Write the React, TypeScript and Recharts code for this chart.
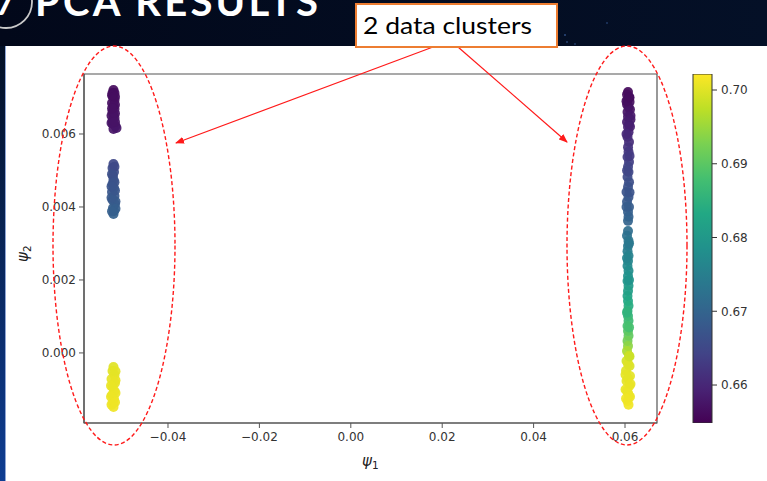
import React from 'react';
import { ScatterChart, Scatter, XAxis, YAxis, ReferenceArea, BarChart, Bar } from 'recharts';

// axis setup
const xTicks = [-0.04, -0.02, 0, 0.02, 0.04, 0.06];
const yTicks = [0, 0.002, 0.004, 0.006];
const cTicks = [0.66, 0.67, 0.68, 0.69, 0.7];
const xDomain: [number, number] = [-0.05838, 0.067];
const yDomain: [number, number] = [-0.00192, 0.007644];
const cDomain: [number, number] = [0.65485, 0.70217];

// [psi1, psi2, colour value]
const leftTop: number[][] = [
  [-0.05193, 0.007205, 0.6562], [-0.05214, 0.007123, 0.6563], [-0.05171, 0.007123, 0.6564],
  [-0.05203, 0.007014, 0.6565], [-0.05171, 0.006932, 0.6566], [-0.05225, 0.006849, 0.6567],
  [-0.05193, 0.006767, 0.6568], [-0.05171, 0.006685, 0.6569], [-0.05214, 0.006603, 0.6570],
  [-0.05193, 0.006521, 0.6571], [-0.05171, 0.006438, 0.6572], [-0.05214, 0.006356, 0.6573],
  [-0.05203, 0.006274, 0.6574], [-0.05149, 0.006219, 0.6575], [-0.05193, 0.006137, 0.6576],
  [-0.05127, 0.006164, 0.6577], [-0.05225, 0.007060, 0.6565], [-0.05160, 0.006800, 0.6568],
  [-0.05236, 0.006500, 0.6571], [-0.05160, 0.006560, 0.6571], [-0.05236, 0.006300, 0.6574],
  [-0.05160, 0.006330, 0.6573], [-0.05160, 0.007020, 0.6565], [-0.05225, 0.006700, 0.6569],
];
const leftMid: number[][] = [
  [-0.05193, 0.005178, 0.6650], [-0.05214, 0.005068, 0.6655], [-0.05182, 0.004959, 0.6660],
  [-0.05203, 0.004849, 0.6664], [-0.05193, 0.004740, 0.6667], [-0.05214, 0.004630, 0.6670],
  [-0.05182, 0.004521, 0.6673], [-0.05225, 0.004411, 0.6676], [-0.05171, 0.004301, 0.6679],
  [-0.05214, 0.004192, 0.6682], [-0.05160, 0.004082, 0.6685], [-0.05203, 0.003973, 0.6688],
  [-0.05182, 0.003890, 0.6691], [-0.05193, 0.003808, 0.6694], [-0.05149, 0.004150, 0.6683],
  [-0.05171, 0.005100, 0.6652], [-0.05225, 0.004900, 0.6662], [-0.05171, 0.004680, 0.6668],
  [-0.05236, 0.004250, 0.6680], [-0.05149, 0.003950, 0.6689], [-0.05225, 0.003880, 0.6691],
  [-0.05160, 0.004450, 0.6675], [-0.05236, 0.004560, 0.6672],
];
const leftLow: number[][] = [
  [-0.05193, -0.000384, 0.7000], [-0.05214, -0.000493, 0.7002], [-0.05171, -0.000603, 0.7004],
  [-0.05236, -0.000712, 0.7005], [-0.05160, -0.000822, 0.7006], [-0.05214, -0.000932, 0.7007],
  [-0.05171, -0.001041, 0.7008], [-0.05225, -0.001151, 0.7009], [-0.05182, -0.001260, 0.7010],
  [-0.05203, -0.001370, 0.7011], [-0.05193, -0.001479, 0.7012], [-0.05149, -0.000750, 0.7006],
  [-0.05149, -0.001100, 0.7009], [-0.05247, -0.000900, 0.7007], [-0.05247, -0.001200, 0.7010],
  [-0.05149, -0.000500, 0.7003], [-0.05236, -0.001420, 0.7011], [-0.05160, -0.001350, 0.7011],
];
const rightCol: number[][] = [
  [0.06066, 0.00715, 0.6560], [0.06044, 0.00708, 0.6562], [0.06088, 0.00701, 0.6563],
  [0.06055, 0.00694, 0.6565], [0.06100, 0.00688, 0.6566], [0.06044, 0.00681, 0.6568],
  [0.06077, 0.00674, 0.6570], [0.06109, 0.00667, 0.6572], [0.06055, 0.00660, 0.6575],
  [0.06120, 0.00650, 0.6578], [0.06066, 0.00647, 0.6579], [0.06120, 0.00640, 0.6582],
  [0.06044, 0.00633, 0.6585], [0.06088, 0.00626, 0.6588], [0.06066, 0.00619, 0.6592],
  [0.06077, 0.00605, 0.6598], [0.06055, 0.00592, 0.6604], [0.06088, 0.00578, 0.6610],
  [0.06066, 0.00564, 0.6617], [0.06077, 0.00551, 0.6623], [0.06055, 0.00537, 0.6630],
  [0.06088, 0.00523, 0.6636], [0.06066, 0.00510, 0.6642], [0.06077, 0.00496, 0.6648],
  [0.06055, 0.00482, 0.6654], [0.06088, 0.00468, 0.6660], [0.06066, 0.00455, 0.6665],
  [0.06033, 0.00441, 0.6670], [0.06077, 0.00427, 0.6675], [0.06044, 0.00414, 0.6680],
  [0.06088, 0.00400, 0.6685], [0.06066, 0.00386, 0.6690], [0.06077, 0.00373, 0.6695],
  [0.06066, 0.00362, 0.6700],
  [0.06066, 0.00334, 0.6718], [0.06044, 0.00321, 0.6725], [0.06077, 0.00307, 0.6732],
  [0.06066, 0.00293, 0.6740], [0.06055, 0.00279, 0.6748], [0.06077, 0.00266, 0.6755],
  [0.06066, 0.00252, 0.6763], [0.06055, 0.00238, 0.6770], [0.06077, 0.00225, 0.6778],
  [0.06066, 0.00211, 0.6786], [0.06055, 0.00197, 0.6794], [0.06077, 0.00184, 0.6802],
  [0.06066, 0.00170, 0.6810], [0.06055, 0.00156, 0.6818], [0.06066, 0.00142, 0.6830],
  [0.06077, 0.00129, 0.6840], [0.06055, 0.00115, 0.6850], [0.06066, 0.00101, 0.6860],
  [0.06077, 0.00088, 0.6870], [0.06055, 0.00074, 0.6880], [0.06066, 0.00060, 0.6892],
  [0.06077, 0.00047, 0.6905], [0.06055, 0.00033, 0.6920], [0.06066, 0.00019, 0.6940],
  [0.06044, 0.00005, 0.6960], [0.06088, -0.00008, 0.6980], [0.06033, -0.00022, 0.6990],
  [0.06099, -0.00036, 0.6995], [0.06022, -0.00049, 0.7000], [0.06109, -0.00063, 0.7003],
  [0.06033, -0.00077, 0.7005], [0.06099, -0.00090, 0.7007], [0.06044, -0.00104, 0.7008],
  [0.06088, -0.00118, 0.7010], [0.06055, -0.00132, 0.7012], [0.06077, -0.00142, 0.7013],
  [0.06066, -0.00030, 0.6998], [0.06066, -0.00070, 0.7004], [0.06066, -0.00110, 0.7009],
  [0.06011, -0.00100, 0.7008], [0.06120, -0.00085, 0.7006], [0.06011, -0.00060, 0.7003],
  [0.06109, -0.00120, 0.7010], [0.06022, -0.00125, 0.7011], [0.06099, -0.00010, 0.6985],
  [0.06033, 0.00690, 0.6566], [0.06099, 0.00700, 0.6563], [0.06109, 0.00620, 0.6590],
  [0.06033, 0.00600, 0.6600], [0.06099, 0.00540, 0.6628], [0.06044, 0.00500, 0.6646],
  [0.06099, 0.00440, 0.6670], [0.06033, 0.00400, 0.6685], [0.06088, 0.00300, 0.6736],
  [0.06044, 0.00260, 0.6758], [0.06088, 0.00200, 0.6792], [0.06044, 0.00110, 0.6853],
  [0.06088, 0.00070, 0.6882],
];

const colourbarRange = [{ name: 'c', range: [cDomain[0], cDomain[1]] }];

const viridisStops = ['#440154', '#482475', '#414487', '#355f8d', '#2a788e', '#21918c', '#22a884', '#44bf70', '#7ad151', '#bddf26', '#fde725'];

function hexToRgb(h: string) {
  return [parseInt(h.slice(1, 3), 16), parseInt(h.slice(3, 5), 16), parseInt(h.slice(5, 7), 16)];
}
function viridis(v: number) {
  let t = (v - cDomain[0]) / (cDomain[1] - cDomain[0]);
  t = Math.max(0, Math.min(1, t));
  const pos = t * (viridisStops.length - 1);
  const i = Math.min(Math.floor(pos), viridisStops.length - 2);
  const f = pos - i;
  const a = hexToRgb(viridisStops[i]);
  const b = hexToRgb(viridisStops[i + 1]);
  const c = a.map((av, k) => Math.round(av + (b[k] - av) * f));
  return `rgb(${c[0]},${c[1]},${c[2]})`;
}

const toPts = (arr: number[][]) => arr.map(([x, y, c]) => ({ x, y, c }));
const allPoints = [...toPts(leftTop), ...toPts(leftMid), ...toPts(leftLow), ...toPts(rightCol)];

const Dot = (props: any) => {
  if (props.cx == null || props.cy == null) return null;
  return <circle cx={props.cx} cy={props.cy} r={5} fill={viridis(props.payload.c)} fillOpacity={0.92} />;
};

const fmtX = (v: number) => (Math.abs(v) < 1e-9 ? '0.00' : v.toFixed(2).replace('-', '\u2212'));
const fmtY = (v: number) => (Math.abs(v) < 1e-9 ? '0.000' : v.toFixed(3));
const fmtC = (v: number) => v.toFixed(2);

const tickStyle = { fontSize: 12, fill: '#333', fontFamily: 'DejaVu Sans' };

export default function App() {
  return (
    <div style={{ position: 'absolute', left: 0, top: 0, width: 767, height: 481, overflow: 'hidden', background: 'linear-gradient(to right, #02081a, #041027)' }}>
      <svg width={0} height={0} style={{ position: 'absolute' }}>
        <defs>
          <linearGradient id="viridisGrad" x1="0" y1="1" x2="0" y2="0">
            {viridisStops.map((c, i) => (
              <stop key={i} offset={`${(i / (viridisStops.length - 1)) * 100}%`} stopColor={c} />
            ))}
          </linearGradient>
        </defs>
      </svg>
      <div style={{ position: 'absolute', left: 0, top: 46, width: 5, height: 435, background: 'linear-gradient(#031026, #0f3d92)' }} />
      <div style={{ position: 'absolute', left: 5, top: 46, width: 1, height: 435, background: '#8fa6d6' }} />
      <div style={{ position: 'absolute', left: 6, top: 46, width: 761, height: 435, background: '#ffffff' }} />

      <div style={{ position: 'absolute', left: 0, top: 0 }}>
        <ScatterChart width={767} height={481} margin={{ top: 74, right: 110, bottom: 18, left: 34 }}>
          <XAxis type="number" dataKey="x" domain={xDomain} ticks={xTicks} allowDataOverflow interval={0} height={40}
            tickFormatter={fmtX} tick={tickStyle} tickSize={5} tickMargin={4}
            axisLine={{ stroke: '#555', strokeWidth: 1.2 }} tickLine={{ stroke: '#555' }} />
          <YAxis type="number" dataKey="y" domain={yDomain} ticks={yTicks} allowDataOverflow interval={0} width={50}
            tickFormatter={fmtY} tick={tickStyle} tickSize={5} tickMargin={3}
            axisLine={{ stroke: '#555', strokeWidth: 1.2 }} tickLine={{ stroke: '#555' }} />
          <ReferenceArea x1={xDomain[0]} x2={xDomain[1]} y1={yDomain[0]} y2={yDomain[1]} fill="none" fillOpacity={0} stroke="#555" strokeWidth={1.2} strokeOpacity={1} />
          <Scatter data={allPoints} shape={Dot} isAnimationActive={false} />
        </ScatterChart>
      </div>

      <div style={{ position: 'absolute', left: 0, top: 0 }}>
        <BarChart width={767} height={481} data={colourbarRange} barCategoryGap={0} margin={{ top: 74, right: 5, bottom: 58, left: 693 }}>
          <XAxis dataKey="name" hide />
          <YAxis orientation="right" type="number" domain={cDomain} ticks={cTicks} allowDataOverflow interval={0} width={50}
            tickFormatter={fmtC} tick={tickStyle} tickSize={5} tickMargin={4} axisLine={false} tickLine={{ stroke: '#333' }} />
          <Bar dataKey="range" fill="url(#viridisGrad)" stroke="#333" strokeWidth={1} isAnimationActive={false} />
        </BarChart>
      </div>

      <svg width={767} height={481} style={{ position: 'absolute', left: 0, top: 0, pointerEvents: 'none' }}>
        <defs>
          <marker id="arrowHead" markerWidth={9} markerHeight={7} refX={8} refY={3.5} orient="auto" markerUnits="userSpaceOnUse">
            <path d="M0,0 L9,3.5 L0,7 z" fill="#ff1a1a" />
          </marker>
        </defs>
        {/* title */}
        <circle cx={6} cy={2} r={26} fill="none" stroke="#c9c9c9" strokeWidth={1.8} />
        <text x={-5} y={15} fill="#ffffff" fontFamily="Lato" fontWeight={700} fontSize={34}>7</text>
        <text x={35} y={16} fill="#ffffff" fontFamily="Lato" fontWeight={700} fontSize={40} textLength={283} lengthAdjust="spacing">PCA RESULTS</text>
        {/* stars */}
        <circle cx={565} cy={35} r={0.8} fill="#4a78c0" />
        <circle cx={567} cy={42} r={0.7} fill="#4a78c0" />
        <circle cx={575} cy={44} r={0.7} fill="#3d66a8" />
        <circle cx={607} cy={23} r={0.7} fill="#3d66a8" />
        <circle cx={470} cy={4} r={0.7} fill="#3d66a8" />
        <circle cx={540} cy={33} r={0.6} fill="#3d66a8" />
        {/* ellipses */}
        <ellipse cx={114} cy={245.5} rx={61} ry={199.5} fill="none" stroke="#ff1a1a" strokeWidth={1.4} strokeDasharray="4 2.5" />
        <ellipse cx={627} cy={245.5} rx={60} ry={199.5} fill="none" stroke="#ff1a1a" strokeWidth={1.4} strokeDasharray="4 2.5" />
        {/* arrows */}
        <line x1={433} y1={47} x2={176} y2={143} stroke="#ff1a1a" strokeWidth={1.2} markerEnd="url(#arrowHead)" />
        <line x1={458} y1={47} x2={567} y2={142} stroke="#ff1a1a" strokeWidth={1.2} markerEnd="url(#arrowHead)" />
        {/* callout */}
        <rect x={356} y={4} width={201} height={43} fill="#ffffff" stroke="#ed7d31" strokeWidth={2} />
        <text x={363} y={34} fill="#000" fontFamily="Lato" fontSize={24} textLength={169} lengthAdjust="spacingAndGlyphs">2 data clusters</text>
        {/* axis labels */}
        <text x={362} y={466} fill="#222" fontFamily="DejaVu Sans" fontSize={15} fontStyle="italic">ψ<tspan fontSize={10.5} dy={3} fontStyle="normal">1</tspan></text>
        <text transform="translate(28,262) rotate(-90)" fill="#222" fontFamily="DejaVu Sans" fontSize={15} fontStyle="italic">ψ<tspan fontSize={10.5} dy={3} fontStyle="normal">2</tspan></text>
      </svg>
    </div>
  );
}
